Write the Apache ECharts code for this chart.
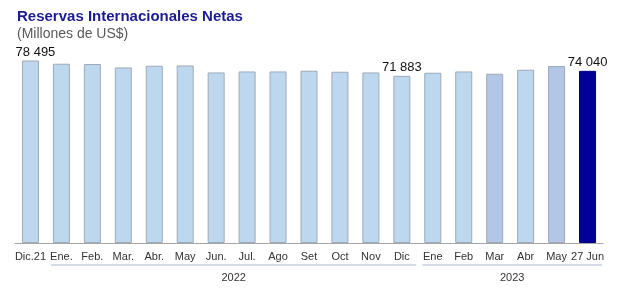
<!DOCTYPE html>
<html>
<head>
<meta charset="utf-8">
<script src="https://cdn.jsdelivr.net/npm/echarts@6/dist/echarts.min.js"></script>
<style>
html,body{margin:0;padding:0;background:#fff;}
#chart{width:620px;height:294px;}
</style>
</head>
<body>
<div id="chart"></div>
<script>
const categories = ["Dic.21","Ene.","Feb.","Mar.","Abr.","May","Jun.","Jul.","Ago","Set","Oct","Nov","Dic","Ene","Feb","Mar","Abr","May","27 Jun"];
const values = [78495,77100,76970,75500,76240,76370,73360,73790,73790,74090,73660,73360,71883,73230,73790,72800,74520,76110,74040];
const labelledIdx = [0,12,18];
const groups = [
  {name:"2022", from:1, to:12},
  {name:"2023", from:13, to:18}
];

const FONT = '"Liberation Sans", Arial, sans-serif';
const chart = echarts.init(document.getElementById('chart'));
function barColor(i){
  if (i === values.length-1) return '#000099';
  if (i === 15 || i === 17) return '#B4C6E6';
  return '#BDD7EE';
}
function fmt(v){ return String(v).replace(/\B(?=(\d{3})+(?!\d))/g,' '); }

chart.setOption({
  animation:false,
  title:{
    text:'Reservas Internacionales Netas',
    subtext:'(Millones de US$)',
    left:12, top:4, itemGap:3,
    textStyle:{fontFamily:FONT,fontSize:15,fontWeight:'bold',color:'#1C1C8E'},
    subtextStyle:{fontFamily:FONT,fontSize:14,color:'#595959'}
  },
  grid:{left:15, right:17, top:57, bottom:51},
  xAxis:{
    type:'category', data:categories,
    axisLine:{lineStyle:{color:'#A6A6A6'}},
    axisTick:{show:false},
    axisLabel:{fontFamily:FONT,fontSize:11,color:'#333',margin:8,interval:0}
  },
  yAxis:{type:'value',min:0,max:80000,show:false,splitLine:{show:false}},
  series:[{
    type:'bar',
    data:values.map((v,i)=>({
      value:v,
      itemStyle:{color:barColor(i),borderColor: i===values.length-1 ? '#000080' : '#9DAAB8',borderWidth:1},
      label: i===0 ? {offset:[5,0]} : undefined
    })),
    barCategoryGap:'45%',
    label:{
      show:true, position:'top', distance:2,
      fontFamily:FONT, fontSize:13, color:'#111',
      formatter:p=> labelledIdx.includes(p.dataIndex) ? fmt(p.value) : ''
    }
  }]
});

const g = [];
const y0 = chart.convertToPixel({yAxisIndex:0}, 0);
const step = chart.convertToPixel({xAxisIndex:0}, 1) - chart.convertToPixel({xAxisIndex:0}, 0);
groups.forEach(gr=>{
  const x1 = chart.convertToPixel({xAxisIndex:0}, gr.from) - step/2 + 5;
  const x2 = chart.convertToPixel({xAxisIndex:0}, gr.to) + step/2 - 1;
  g.push({type:'line', shape:{x1:x1,y1:y0+22,x2:x2,y2:y0+22}, style:{stroke:'#A9B8CC',lineWidth:1}});
  g.push({type:'text', x:(x1+x2)/2, y:y0+35, style:{text:gr.name,fontFamily:FONT,fontSize:11,fill:'#333',align:'center',verticalAlign:'middle'}});
});
chart.setOption({graphic:g});
</script>
</body>
</html>
